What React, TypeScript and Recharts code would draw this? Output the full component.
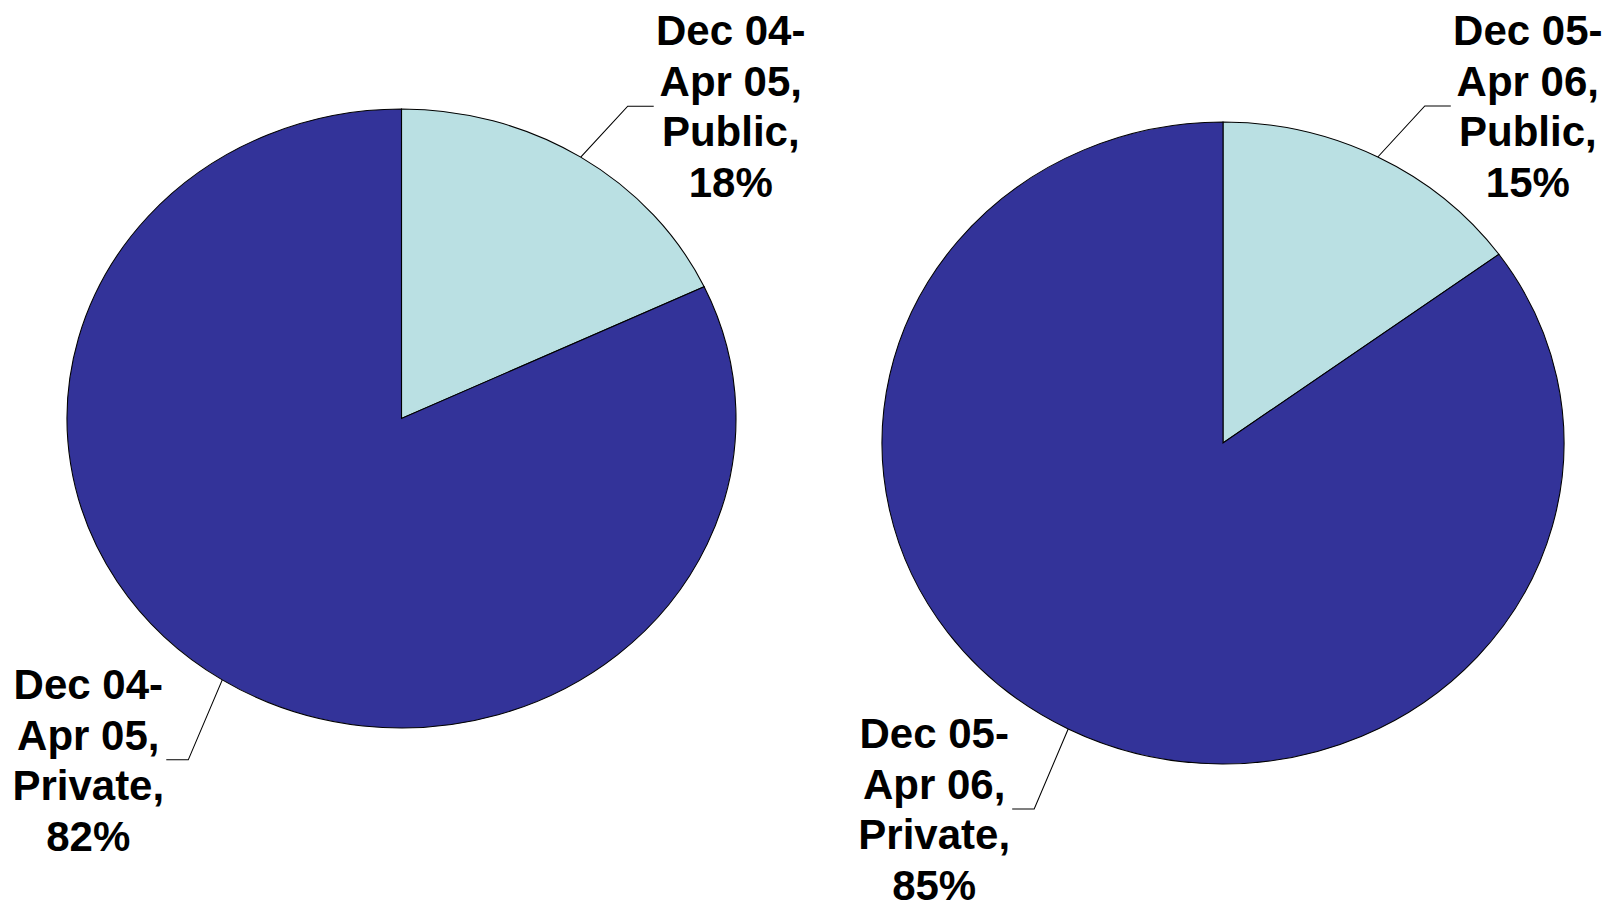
import { PieChart, Pie, Cell } from 'recharts'

const periodStart = ['Dec 04-', 'Dec 05-']
const periodEnd = ['Apr 05', 'Apr 06']
const sectors = ['Public', 'Private']
const share0405 = [18, 82]
const share0506 = [15, 85]

const COLORS = ['#BAE0E3', '#333399']
const RAD = Math.PI / 180
const FONT = '"Liberation Sans", Arial, sans-serif'
// leader elbow offset from the slice edge, horizontal tail, text offset (screen px), per slice
const LEADER = [
  { ex: 47, ey: -51, tail: 26, text: 77 },
  { ex: -34, ey: 80, tail: 22, text: 78 },
]

type PanelProps = {
  left: number
  width: number
  cx: number
  cy: number
  r: number
  sx: number
  values: number[]
  period: number
}

const makeLabel = (sx: number, period: number) => (p: any) => {
  const { cx, cy, midAngle, outerRadius, index, name, value } = p
  const cos = Math.cos(-midAngle * RAD)
  const sin = Math.sin(-midAngle * RAD)
  const x0 = cx + outerRadius * cos
  const y0 = cy + outerRadius * sin
  const { ex, ey, tail, text } = LEADER[index]
  const x1 = x0 + ex / sx
  const y1 = y0 + ey
  const dir = ex >= 0 ? 1 : -1
  const x2 = x1 + (dir * tail) / sx
  const tx = x2 + (dir * text) / sx
  const lines = [periodStart[period], periodEnd[period] + ',', name + ',', value + '%']
  return (
    <g>
      <polyline points={`${x0},${y0} ${x1},${y1} ${x2},${y1}`} fill="none" stroke="#000" strokeWidth={1} />
      <g transform={`translate(${tx},${y1}) scale(${1 / sx},1)`}>
        <text textAnchor="middle" fontFamily={FONT} fontWeight="bold" fontSize={42} fill="#000">
          {lines.map((t, i) => (
            <tspan key={i} x={0} y={(i - 1.5) * 50.5 + 15}>
              {t}
            </tspan>
          ))}
        </text>
      </g>
    </g>
  )
}

function Panel({ left, width, cx, cy, r, sx, values, period }: PanelProps) {
  const data = sectors.map((name, i) => ({ name, value: values[i] }))
  return (
    <div
      style={{
        position: 'absolute',
        left,
        top: 0,
        width,
        height: 904,
        transform: `scaleX(${sx})`,
        transformOrigin: `${cx}px 0px`,
      }}
    >
      <PieChart width={width} height={904} margin={{ top: 0, right: 0, bottom: 0, left: 0 }} style={{ overflow: 'visible' }}>
        <Pie
          data={data}
          dataKey="value"
          nameKey="name"
          cx={cx}
          cy={cy}
          outerRadius={r}
          startAngle={90}
          endAngle={-270}
          label={makeLabel(sx, period)}
          labelLine={false}
          isAnimationActive={false}
        >
          {data.map((d, i) => (
            <Cell key={d.name} fill={COLORS[i]} stroke="#000" strokeWidth={1} />
          ))}
        </Pie>
      </PieChart>
    </div>
  )
}

export default function App() {
  return (
    <div
      style={{
        position: 'absolute',
        left: 0,
        top: 0,
        width: 1617,
        height: 904,
        overflow: 'hidden',
        background: '#fff',
      }}
    >
      <Panel left={0} width={820} cx={401.5} cy={418.5} r={309.5} sx={334.5 / 309.5} values={share0405} period={0} />
      <Panel left={810} width={807} cx={413} cy={443} r={321} sx={341 / 321} values={share0506} period={1} />
    </div>
  )
}
